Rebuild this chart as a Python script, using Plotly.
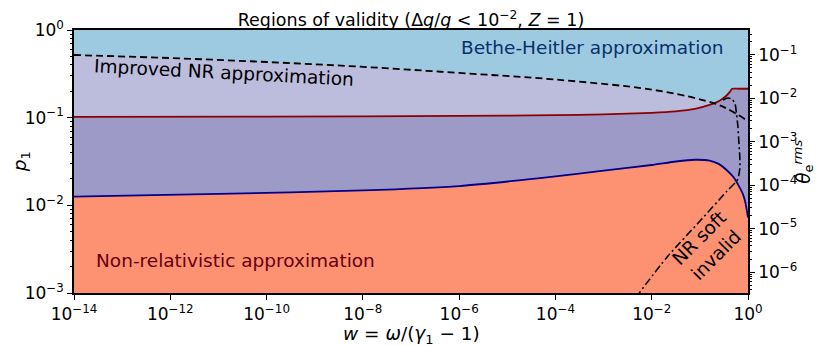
import numpy as np
import plotly.graph_objects as go

# curves, as log10 values
# dashed: Bethe-Heitler / improved NR boundary
dash_logw = [-14, -12, -10, -8, -6, -4, -2, -1, -0.5, 0]
dash_logp = [-0.285, -0.32, -0.365, -0.42, -0.49, -0.565, -0.68, -0.79, -0.88, -1.04]

# dark red: improved NR boundary
red_logw = [-14, -10, -6, -4, -3, -2, -1.5, -1.1, -0.8, -0.6, -0.45, -0.37, -0.33, -0.2, 0]
red_logp = [-0.99, -0.988, -0.98, -0.972, -0.962, -0.945, -0.928, -0.90, -0.855, -0.81,
            -0.75, -0.70, -0.67, -0.67, -0.67]

# dark blue: non-relativistic boundary
blue_logw = [-14, -11, -8, -6, -4, -3, -2, -1.5, -1.1, -0.8, -0.6, -0.44, -0.3, -0.2,
             -0.1, -0.05, 0]
blue_logp = [-1.90, -1.87, -1.83, -1.78, -1.67, -1.605, -1.54, -1.50, -1.48, -1.49,
             -1.53, -1.60, -1.68, -1.77, -1.88, -1.98, -2.14]

# dash-dot: NR soft invalid
soft_logw = [-0.52, -0.42, -0.33, -0.27, -0.24, -0.21, -0.19, -0.17, -0.17, -0.22,
             -0.44, -1.0, -1.68, -2.26]
soft_logp = [-0.80, -0.775, -0.79, -0.84, -0.95, -1.10, -1.28, -1.45, -1.58, -1.71,
             -1.84, -2.18, -2.59, -3.0]

w_ticks = [-14, -12, -10, -8, -6, -4, -2, 0]
p_ticks = [-3, -2, -1, 0]
theta_ticks = [-6, -5, -4, -3, -2, -1]

theta_range = [-6.48, -0.43]
p_range = [-3, 0]
w_range = [-14, 0]

FONT = "DejaVu Sans"


def pw(a):
    return [10 ** v for v in a]


def labels(exps):
    return ["10<sup>%s</sup>" % str(e).replace("-", "−") for e in exps]


def minor_vals(lo, hi):
    return [m * 10.0 ** k for k in range(lo, hi) for m in range(2, 10)]


def region(logw, logp):
    # polygon from a boundary curve down to the bottom of the axes
    x = pw(logw) + [10 ** w_range[1], 10 ** w_range[0]]
    y = pw(logp) + [10 ** p_range[0] / 2, 10 ** p_range[0] / 2]
    return x, y


fig = go.Figure()

for (lw, lp), col in [((dash_logw, dash_logp), "#bcbddc"),
                      ((red_logw, red_logp), "#9e9ac8"),
                      ((blue_logw, blue_logp), "#fc9272")]:
    x, y = region(lw, lp)
    fig.add_trace(go.Scatter(x=x, y=y, fill="toself", fillcolor=col, mode="none",
                             line_shape="spline", hoverinfo="skip", showlegend=False))

fig.add_trace(go.Scatter(x=pw(red_logw), y=pw(red_logp), mode="lines",
                         line=dict(color="#8b0000", width=1.8, shape="spline", smoothing=0.6),
                         showlegend=False))
fig.add_trace(go.Scatter(x=pw(blue_logw), y=pw(blue_logp), mode="lines",
                         line=dict(color="#00008b", width=1.8, shape="spline", smoothing=0.5),
                         showlegend=False))
fig.add_trace(go.Scatter(x=pw(dash_logw), y=pw(dash_logp), mode="lines",
                         line=dict(color="black", width=1.8, dash="7px,4px", shape="spline"),
                         showlegend=False))
fig.add_trace(go.Scatter(x=pw(soft_logw), y=pw(soft_logp), mode="lines",
                         line=dict(color="black", width=1.6, dash="8px,3px,2px,3px",
                                   shape="spline", smoothing=0.7),
                         showlegend=False))
# invisible carriers so the extra y axes get drawn
for ax, rng in [("y2", theta_range), ("y3", p_range), ("y4", theta_range)]:
    fig.add_trace(go.Scatter(x=[10 ** w_range[0]], y=[10 ** rng[0]], yaxis=ax,
                             mode="markers", marker=dict(opacity=0), hoverinfo="skip",
                             showlegend=False))


def note(text, x, y, color="black", angle=0):
    fig.add_annotation(text=text, x=x, y=y, xref="paper", yref="paper", showarrow=False,
                       xanchor="center", yanchor="middle", textangle=angle,
                       font=dict(family=FONT, size=18.5, color=color))


note("Bethe-Heitler approximation", 0.769, 0.932, "#08306b")
note("Improved NR approximation", 0.2226, 0.838, angle=3)
note("Non-relativistic approximation", 0.240, 0.125, "#67000d")
note("NR soft<br>invalid", 0.94, 0.177, angle=-45)
# axis titles
note("<i>p</i><sub>1</sub>", -0.079, 0.5, angle=-90)
note("<i>θ</i><sub>e</sub><sup><i>rms</i></sup>", 1.082, 0.5, angle=-90)
note("<i>w</i> = <i>ω</i>/(<i>γ</i><sub>1</sub> − 1)", 0.5, -0.16)

axis_common = dict(type="log", showgrid=False, zeroline=False, showline=True,
                   automargin=False, linecolor="black", linewidth=1.5, ticks="outside",
                   ticklen=5, tickwidth=1.2, tickcolor="black",
                   tickfont=dict(family=FONT, size=17, color="black"))
minor_axis = dict(type="log", showgrid=False, zeroline=False, showline=False,
                  automargin=False, ticks="outside", ticklen=3, tickwidth=0.8,
                  tickcolor="black", showticklabels=False, overlaying="y")

fig.update_layout(
    width=822, height=338,
    margin=dict(l=66, r=82, t=22, b=53, autoexpand=False),
    plot_bgcolor="#9ecae1", paper_bgcolor="white",
    title=dict(text="Regions of validity (Δ<i>g</i>/<i>g</i> &lt; 10<sup>−2</sup>, <i>Z</i> = 1)",
               x=0.5, xref="paper", xanchor="center", y=0.964, yanchor="middle",
               automargin=False, font=dict(family=FONT, size=17.5, color="black")),
    xaxis=dict(range=w_range, mirror=True, tickvals=pw(w_ticks), ticktext=labels(w_ticks),
               **axis_common),
    yaxis=dict(range=p_range, tickvals=pw(p_ticks), ticktext=labels(p_ticks),
               **axis_common),
    yaxis2=dict(range=theta_range, overlaying="y", side="right",
                tickvals=pw(theta_ticks), ticktext=labels(theta_ticks), **axis_common),
    yaxis3=dict(range=p_range, side="left", tickvals=minor_vals(-3, 0), **minor_axis),
    yaxis4=dict(range=theta_range, side="right", tickvals=minor_vals(-7, 0), **minor_axis),
    showlegend=False,
)

fig.write_html("out.html")
